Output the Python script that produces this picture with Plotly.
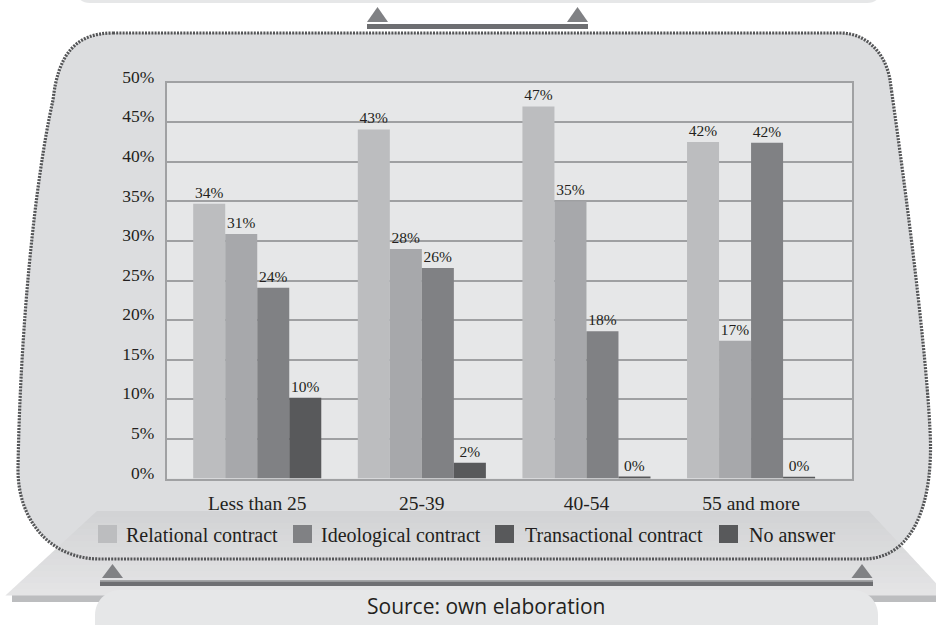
import plotly.graph_objects as go

W, H = 936, 625

# ---------------- data ----------------
categories = ["Less than 25", "25-39", "40-54", "55 and more"]
series_names = ["Relational contract", "Ideological contract", "Transactional contract", "No answer"]
relational = [34.7, 44.1, 47.0, 42.5]
ideological = [30.9, 29.0, 35.0, 17.4]
transactional = [24.1, 26.6, 18.6, 42.4]
no_answer = [10.2, 2.0, 0.25, 0.12]
relational_labels = ["34%", "43%", "47%", "42%"]
ideological_labels = ["31%", "28%", "35%", "17%"]
transactional_labels = ["24%", "26%", "18%", "42%"]
no_answer_labels = ["10%", "2%", "0%", "0%"]
y_tick_values = [0, 5, 10, 15, 20, 25, 30, 35, 40, 45, 50]
y_tick_labels = ["0%", "5%", "10%", "15%", "20%", "25%", "30%", "35%", "40%", "45%", "50%"]
source_text = "Source: own elaboration"

bar_colors = ["#bcbdbf", "#a7a8ab", "#808184", "#58595b"]
legend_colors = ["#bcbdbf", "#808184", "#58595b", "#58595b"]
TEXT = "#231f20"
SERIF = "Liberation Serif, Times New Roman, serif"
SANS = "Open Sans, Noto Sans, sans-serif"

# ---------------- helpers (pixel -> paper) ----------------
def fx(x):
    return x / W

def fy(y):
    return 1 - y / H

def path(cmds):
    out = []
    for c in cmds:
        op, pts = c[0], c[1:]
        s = op
        for i in range(0, len(pts), 2):
            s += " %.5f,%.5f" % (fx(pts[i]), fy(pts[i + 1]))
        out.append(s)
    return " ".join(out)

shapes = []

def add_path(cmds, fill, line_color=None, line_width=0, dash=None):
    line = dict(width=line_width, color=line_color or "rgba(0,0,0,0)")
    if dash:
        line["dash"] = dash
    shapes.append(dict(type="path", xref="paper", yref="paper", path=path(cmds),
                       fillcolor=fill, line=line, layer="below"))

def add_rect(x0, y0, x1, y1, fill):
    shapes.append(dict(type="rect", xref="paper", yref="paper",
                       x0=fx(x0), x1=fx(x1), y0=fy(y1), y1=fy(y0),
                       fillcolor=fill, line=dict(width=0), layer="below"))

def add_tri(cx, base_y, half, height, fill):
    add_path([("M", cx - half, base_y), ("L", cx + half, base_y), ("L", cx, base_y - height), ("Z",)], fill)

def lerp_col(c0, c1, t):
    a = [int(c0[i:i + 2], 16) for i in (1, 3, 5)]
    b = [int(c1[i:i + 2], 16) for i in (1, 3, 5)]
    return "#%02x%02x%02x" % tuple(round(a[k] + (b[k] - a[k]) * t) for k in range(3))

# top box (bottom of a previous panel)
add_path([("M", 77, -30), ("L", 880, -30), ("L", 880, -9), ("C", 880, -1, 875, 3, 867, 3),
          ("L", 90, 3), ("C", 82, 3, 77, -1, 77, -9), ("Z",)], "#e6e7e8")
# top connector
add_tri(377.5, 22, 10.5, 15, "#808184")
add_tri(577.5, 22, 10.5, 15, "#808184")
add_rect(367, 24, 588, 29, "#6d6e71")

# dotted panel
panel = [("M", 113, 33), ("L", 840, 33), ("C", 868, 33, 886, 55, 890, 80),
         ("C", 900, 150, 925, 330, 930, 430), ("C", 934, 500, 915, 559, 863, 559),
         ("L", 100, 559), ("C", 50, 559, 18, 520, 18, 470),
         ("C", 20, 330, 35, 180, 53, 100), ("C", 58, 55, 75, 33, 113, 33), ("Z",)]
add_path(panel, "#dcdddf")

# platform strip and trapezoid bands
add_rect(12, 592, 945, 602, "#bcbdbf")
n = 14
top_y, bot_y = 511, 595
for i in range(n):
    y0 = top_y + (bot_y - top_y) * i / n
    y1 = top_y + (bot_y - top_y) * (i + 1) / n + 0.6
    xl0 = 97 + (6 - 97) * (y0 - top_y) / (bot_y - top_y)
    xl1 = 97 + (6 - 97) * (y1 - top_y) / (bot_y - top_y)
    xr0 = 869 + (947 - 869) * (y0 - top_y) / (bot_y - top_y)
    xr1 = 869 + (947 - 869) * (y1 - top_y) / (bot_y - top_y)
    col = lerp_col("#d2d3d5", "#e4e4e5", i / (n - 1))
    add_path([("M", xl0, y0), ("L", xr0, y0), ("L", xr1, y1), ("L", xl1, y1), ("Z",)], col)

# dotted border
add_path(panel, "rgba(0,0,0,0)", "#545557", 3.2, "2px,1.2px")

# plot area background
PL, PR, PT, PB = 166.7, 852.3, 82.7, 478.5
add_rect(PL, PT, PR, PB, "#e6e7e8")

# legend squares
legend_sq_x = [98, 293, 495, 719]
legend_txt_x = [124, 319, 523, 747]
for sx, col in zip(legend_sq_x, legend_colors):
    add_rect(sx, 525, sx + 19, 543, col)

# bottom connector
add_tri(112.5, 578, 10.5, 14, "#808184")
add_tri(862, 578, 10.5, 14, "#808184")
add_rect(100, 580, 873, 581.5, "#a3a4a6")
add_rect(100, 581.5, 873, 586, "#6d6e71")

# source pill
add_path([("M", 120, 590), ("L", 853, 590), ("C", 867, 590, 878, 601, 878, 615),
          ("L", 878, 660), ("L", 95, 660), ("L", 95, 615), ("C", 95, 601, 106, 590, 120, 590), ("Z",)],
         "#e6e7e8")

# ---------------- traces ----------------
fig = go.Figure()
series_vals = [relational, ideological, transactional, no_answer]
series_labels = [relational_labels, ideological_labels, transactional_labels, no_answer_labels]
for name, vals, labs, col in zip(series_names, series_vals, series_labels, bar_colors):
    fig.add_trace(go.Bar(
        x=categories, y=vals, name=name, marker=dict(color=col, line=dict(width=0)),
        text=labs, textposition="outside", cliponaxis=False, constraintext="none",
        textfont=dict(family=SERIF, size=15.5, color=TEXT), showlegend=False,
        hoverinfo="x+y+name"))

annotations = []
for tx, name in zip(legend_txt_x, series_names):
    annotations.append(dict(x=fx(tx), y=fy(535), xref="paper", yref="paper", text=name,
                            showarrow=False, xanchor="left", yanchor="middle",
                            font=dict(family=SERIF, size=20, color=TEXT)))
annotations.append(dict(x=fx(486), y=fy(606), xref="paper", yref="paper", text=source_text,
                        showarrow=False, xanchor="center", yanchor="middle",
                        font=dict(family=SANS, size=21, color=TEXT)))

fig.update_layout(
    width=W, height=H, margin=dict(l=0, r=0, t=0, b=0, pad=0, autoexpand=False),
    paper_bgcolor="white", plot_bgcolor="rgba(0,0,0,0)",
    barmode="group", bargap=0.222, bargroupgap=0,
    showlegend=False, shapes=shapes, annotations=annotations,
    font=dict(family=SERIF, color=TEXT),
    xaxis=dict(domain=[fx(PL), fx(PR)], type="category", range=[-0.55, 3.615],
               showgrid=False, showline=True, mirror=True, linecolor="#a0a1a3", linewidth=1.5,
               ticks="", tickfont=dict(family=SERIF, size=19.5, color=TEXT), ticklabelstandoff=6,
               automargin=False, fixedrange=True),
    yaxis=dict(domain=[fy(PB), fy(PT)], range=[0, 50], tickvals=y_tick_values, ticktext=y_tick_labels,
               showgrid=True, gridcolor="#9fa0a2", gridwidth=1.5, zeroline=False,
               showline=True, mirror=True, linecolor="#a0a1a3", linewidth=1.5,
               ticks="", tickfont=dict(family=SERIF, size=17.5, color=TEXT),
               ticklabelshift=-6, ticklabelstandoff=7, automargin=False, fixedrange=True),
)

fig.write_html("out.html")
